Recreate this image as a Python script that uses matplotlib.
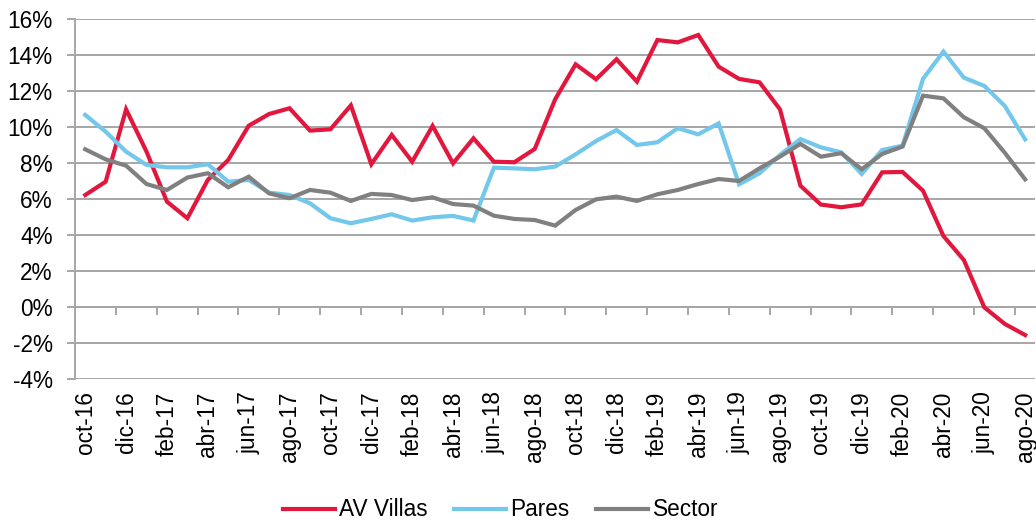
import matplotlib
matplotlib.use('Agg')
import matplotlib.pyplot as plt
from matplotlib.ticker import FuncFormatter

plt.rcParams['font.family'] = ['Liberation Sans', 'DejaVu Sans']

# monthly series oct-16 .. ago-20
months_es = ['ene', 'feb', 'mar', 'abr', 'may', 'jun', 'jul', 'ago', 'sep', 'oct', 'nov', 'dic']
labels = []
for k in range(47):
    m = (9 + k) % 12
    y = 16 + (9 + k) // 12
    labels.append(f'{months_es[m]}-{y}')

av_villas = [6.22, 6.96, 10.98, 8.63, 5.85, 4.93, 7.06, 8.17, 10.07, 10.72,
             11.04, 9.80, 9.87, 11.2, 7.93, 9.56, 8.07, 10.06, 7.98, 9.37,
             8.07, 8.04, 8.78, 11.54, 13.48, 12.65, 13.76, 12.52, 14.83, 14.70,
             15.11, 13.35, 12.67, 12.48, 10.98, 6.74, 5.69, 5.54, 5.70, 7.48,
             7.50, 6.46, 3.94, 2.61, -0.02, -0.94, -1.56]
pares = [10.67, 9.74, 8.63, 7.89, 7.76, 7.76, 7.93, 6.96, 7.06, 6.35,
         6.22, 5.76, 4.93, 4.65, 4.89, 5.15, 4.80, 4.98, 5.06, 4.80,
         7.74, 7.70, 7.65, 7.80, 8.48, 9.22, 9.83, 9.00, 9.15, 9.93,
         9.59, 10.2, 6.81, 7.43, 8.44, 9.33, 8.87, 8.59, 7.39, 8.72,
         8.96, 12.67, 14.19, 12.74, 12.28, 11.17, 9.31]
sector = [8.76, 8.20, 7.85, 6.83, 6.50, 7.19, 7.43, 6.65, 7.24, 6.31,
          6.04, 6.50, 6.35, 5.89, 6.28, 6.22, 5.94, 6.09, 5.72, 5.63,
          5.07, 4.89, 4.83, 4.52, 5.39, 5.98, 6.13, 5.89, 6.26, 6.50,
          6.83, 7.11, 7.00, 7.70, 8.35, 9.06, 8.35, 8.54, 7.65, 8.50,
          8.91, 11.74, 11.59, 10.54, 9.93, 8.57, 7.09]

red = '#E2173D'
blue = '#72C7EA'
grey = '#808080'
gridc = '#A6A6A6'
fs = 16.3

fig = plt.figure(figsize=(10.36, 5.21), dpi=100)
ax = fig.add_axes([0.0724, 0.2726, 0.927, 0.691])

x = list(range(len(labels)))
ax.plot(x, av_villas, color=red, lw=3, label='AV Villas', solid_joinstyle='miter')
ax.plot(x, pares, color=blue, lw=3, label='Pares', solid_joinstyle='miter')
ax.plot(x, sector, color=grey, lw=3, label='Sector', solid_joinstyle='miter')

ax.set_xlim(-0.5, len(labels) - 0.5)
ax.set_ylim(-4, 16)
ax.set_yticks(range(-4, 17, 2))
ax.yaxis.set_major_formatter(FuncFormatter(lambda v, p: f'{v:.0f}%'))
ax.grid(axis='y', color=gridc, lw=1.4)
ax.set_axisbelow(True)

ax.set_xticks(x[::2])
ax.set_xticklabels(labels[::2], rotation=90, fontsize=fs)
ax.tick_params(axis='x', length=0, pad=9)
ax.tick_params(axis='y', labelsize=fs, length=6, color=gridc, width=1.4, pad=10)

for s in ['top', 'right', 'bottom']:
    ax.spines[s].set_visible(False)
ax.spines['left'].set_color(gridc)
ax.spines['left'].set_linewidth(1.4)

# category axis crossing at 0% with boundary ticks
sec = ax.secondary_xaxis(0.2)
sec.set_xticks([i + 1.5 for i in range(0, len(labels) - 1, 2)])
sec.tick_params(length=6, color=gridc, width=1.4, labelbottom=False)
sec.spines['bottom'].set_color(gridc)
sec.spines['bottom'].set_linewidth(1.4)

fig.legend(loc='center', bbox_to_anchor=(0.483, 1 - 510 / 521), ncol=3, frameon=False,
           fontsize=fs, handlelength=2.3, columnspacing=1.15, handletextpad=0.2,
           borderpad=0, borderaxespad=0)

fig.savefig('out.png', dpi=100)
